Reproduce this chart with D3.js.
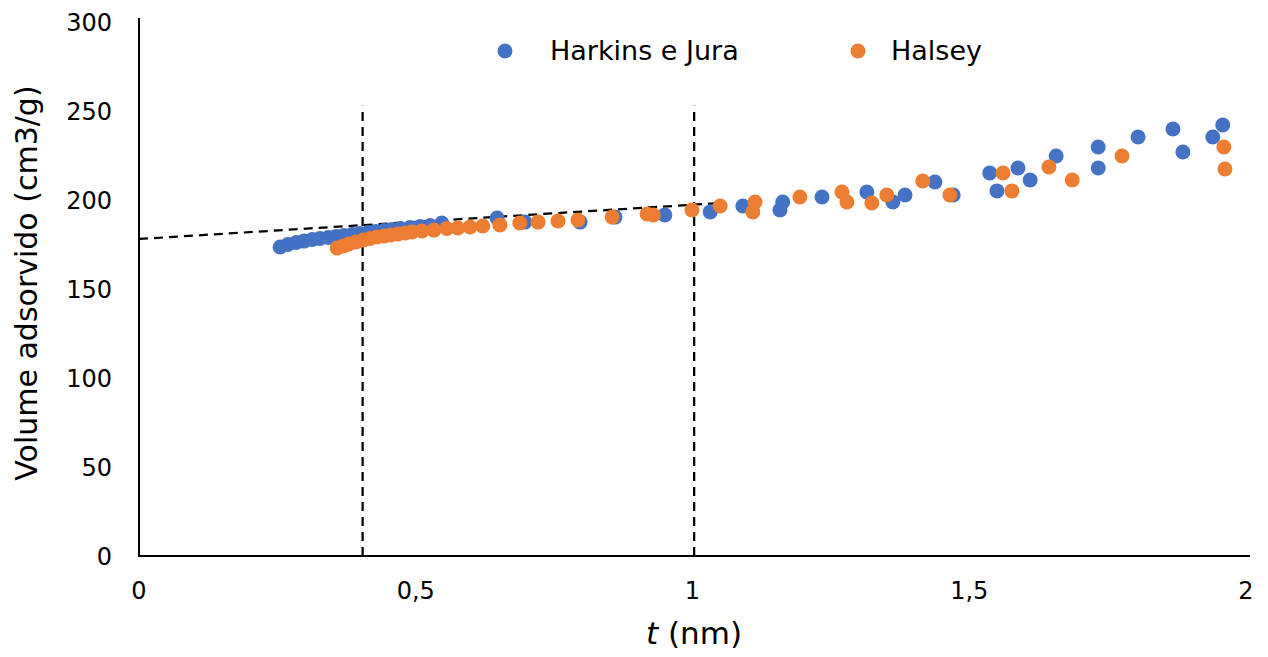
<!DOCTYPE html>
<html>
<head>
<meta charset="utf-8">
<script src="https://cdn.jsdelivr.net/npm/d3@7"></script>
<style>
  body { margin: 0; background: #fff; }
  text { font-family: "DejaVu Sans", Verdana, sans-serif; fill: #000; }
</style>
</head>
<body>
<svg id="chart"></svg>
<script>
// Harkins e Jura: t (nm), volume (cm3/g)
const hjT = [0.255, 0.269, 0.284, 0.298, 0.313, 0.327, 0.342, 0.356, 0.370, 0.385,
             0.399, 0.414, 0.428, 0.443, 0.457, 0.472, 0.490, 0.508, 0.526, 0.547,
             0.647, 0.697, 0.797, 0.860, 0.950, 1.032, 1.091, 1.158, 1.163, 1.234,
             1.315, 1.362, 1.384, 1.438, 1.471, 1.537, 1.550, 1.588, 1.610, 1.657,
             1.733, 1.733, 1.805, 1.868, 1.886, 1.940, 1.958];
const hjV = [173.6, 175.0, 176.1, 176.9, 177.8, 178.4, 178.9, 179.5, 180.1, 180.6,
             181.2, 181.7, 182.3, 182.9, 183.4, 184.0, 184.6, 185.1, 185.7, 187.1,
             189.9, 187.6, 187.6, 190.4, 191.6, 193.3, 196.6, 194.4, 198.9, 201.7,
             204.5, 198.9, 202.8, 210.1, 202.8, 215.2, 205.1, 218.0, 211.2, 224.7,
             229.8, 218.0, 235.4, 239.9, 227.0, 235.4, 242.1];

// Halsey
const haT = [0.358, 0.369, 0.379, 0.392, 0.405, 0.417, 0.430, 0.443, 0.455, 0.468,
             0.481, 0.493, 0.511, 0.533, 0.556, 0.576, 0.598, 0.621, 0.652, 0.688,
             0.721, 0.757, 0.793, 0.855, 0.918, 0.929, 0.999, 1.050, 1.109, 1.113,
             1.194, 1.270, 1.279, 1.324, 1.351, 1.416, 1.465, 1.561, 1.577, 1.644,
             1.686, 1.776, 1.960, 1.962];
const haV = [173.0, 174.2, 175.3, 176.4, 177.5, 178.4, 179.2, 179.8, 180.3, 180.9,
             181.5, 182.0, 182.6, 183.1, 184.0, 184.3, 184.8, 185.4, 186.0, 187.1,
             187.6, 188.2, 188.8, 190.4, 192.1, 191.6, 194.4, 196.6, 193.3, 198.9,
             201.7, 204.5, 198.9, 198.3, 202.8, 210.7, 202.8, 215.2, 205.1, 218.5,
             211.2, 224.7, 229.8, 217.4];

// guide lines
const fitT = [0, 1.05];
const fitV = [178.1, 198.3];
const vLinesT = [0.404, 1.003];
const vLineTop = 253;

const xTicks = [0, 0.5, 1, 1.5, 2];
const yTicks = [0, 50, 100, 150, 200, 250, 300];
const seriesNames = ["Harkins e Jura", "Halsey"];
const colors = ["#4472C4", "#ED7D31"];

const width = 1268, height = 657;
const margin = {top: 22, right: 21, bottom: 101, left: 139};

const svg = d3.select("#chart")
    .attr("width", width)
    .attr("height", height);

const x = d3.scaleLinear().domain([0, 2]).range([margin.left, 1246]);
const y = d3.scaleLinear().domain([0, 300]).range([height - margin.bottom, margin.top]);
const fmt = d => String(d).replace(".", ",");

// y tick labels
svg.append("g").selectAll("text")
    .data(yTicks).enter().append("text")
    .attr("x", 112)
    .attr("y", d => y(d))
    .attr("dy", "0.36em")
    .attr("text-anchor", "end")
    .attr("font-size", "24px")
    .text(d => d);

// x tick labels
svg.append("g").selectAll("text")
    .data(xTicks).enter().append("text")
    .attr("x", d => x(d))
    .attr("y", 599)
    .attr("text-anchor", "middle")
    .attr("font-size", "24px")
    .text(fmt);

// dashed lines
const line = d3.line().x(d => x(d[0])).y(d => y(d[1]));
svg.append("path")
    .attr("d", line(fitT.map((t, i) => [t, fitV[i]])))
    .attr("fill", "none")
    .attr("stroke", "#000")
    .attr("stroke-width", 2.25)
    .attr("stroke-dasharray", "9,6");

svg.append("g").selectAll("line")
    .data(vLinesT).enter().append("line")
    .attr("x1", d => x(d)).attr("x2", d => x(d))
    .attr("y1", y(0)).attr("y2", y(vLineTop))
    .attr("stroke", "#000")
    .attr("stroke-width", 2.25)
    .attr("stroke-dasharray", "9,6");

// axes lines
svg.append("line")
    .attr("x1", x(0)).attr("x2", 1250)
    .attr("y1", y(0)).attr("y2", y(0))
    .attr("stroke", "#000").attr("stroke-width", 2);
svg.append("line")
    .attr("x1", x(0)).attr("x2", x(0))
    .attr("y1", y(0) + 1).attr("y2", y(300) - 4)
    .attr("stroke", "#000").attr("stroke-width", 2);

// points
const hj = hjT.map((t, i) => [t, hjV[i]]);
const ha = haT.map((t, i) => [t, haV[i]]);

[hj, ha].forEach((pts, k) => {
    svg.append("g").selectAll("circle")
        .data(pts).enter().append("circle")
        .attr("cx", d => x(d[0]))
        .attr("cy", d => y(d[1]))
        .attr("r", 7.5)
        .attr("fill", colors[k]);
});

// legend
const legend = svg.append("g");
const legDot = [505, 858];
const legText = [550, 891];
seriesNames.forEach((name, i) => {
    legend.append("circle")
        .attr("cx", legDot[i]).attr("cy", 51)
        .attr("r", 7.5).attr("fill", colors[i]);
    legend.append("text")
        .attr("x", legText[i]).attr("y", 50)
        .attr("dy", "0.36em")
        .attr("font-size", "27px")
        .text(name);
});

// axis titles
const xt = svg.append("text")
    .attr("x", 694).attr("y", 644)
    .attr("text-anchor", "middle")
    .attr("font-size", "31px");
xt.append("tspan").attr("font-style", "italic").text("t");
xt.append("tspan").text(" (nm)");

svg.append("text")
    .attr("transform", "translate(37, 283) rotate(-90)")
    .attr("text-anchor", "middle")
    .attr("font-size", "30px")
    .text("Volume adsorvido (cm3/g)");
</script>
</body>
</html>
